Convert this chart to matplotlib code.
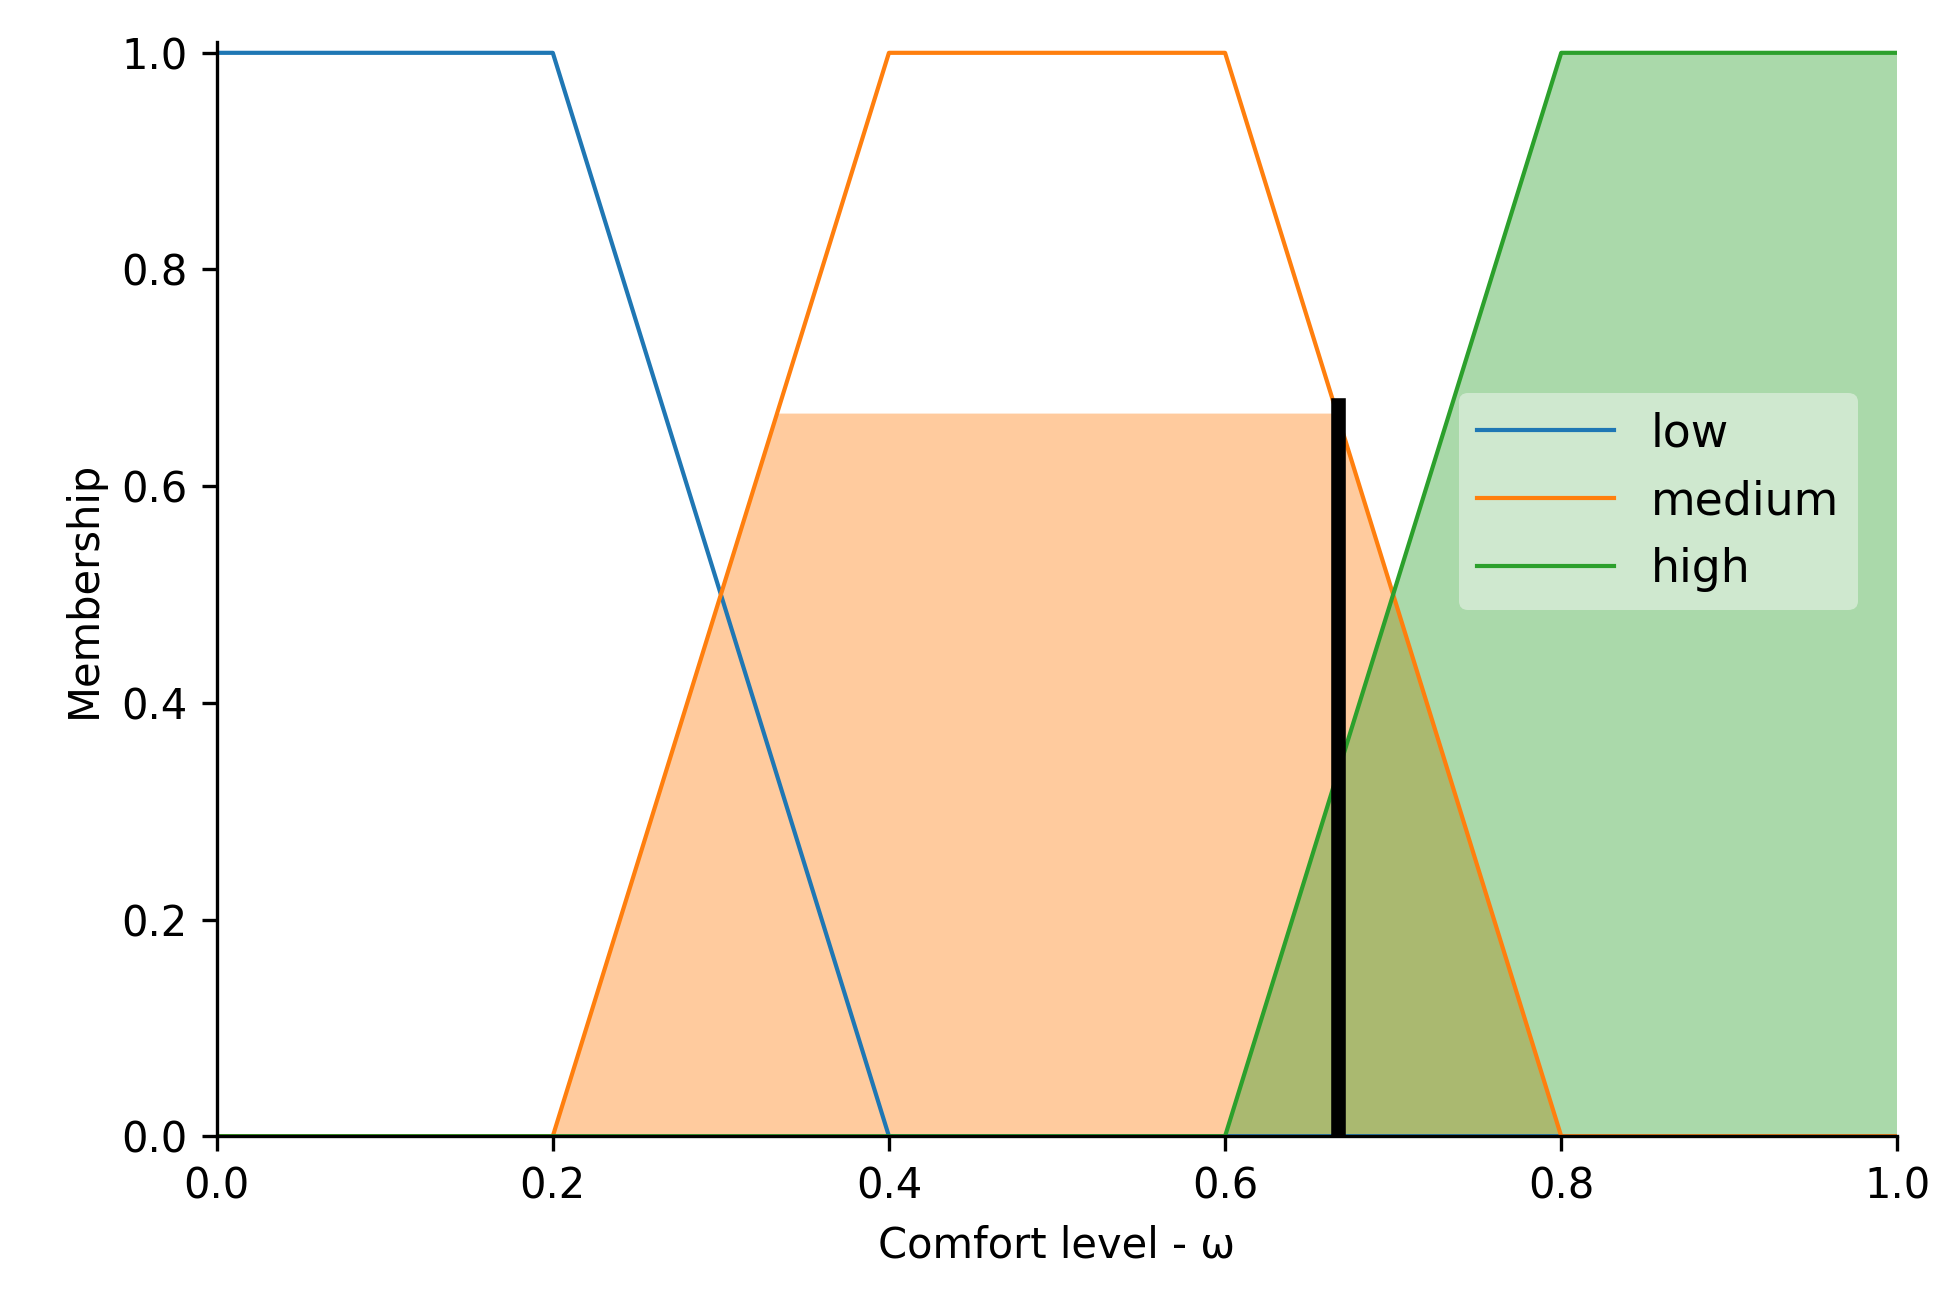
import numpy as np
import matplotlib
matplotlib.use("Agg")
import matplotlib.pyplot as plt

# trapezoid membership functions (x breakpoints, y values)
x_universe = np.linspace(0, 1, 1001)
low_pts = [0.0, 0.0, 0.2, 0.4]
medium_pts = [0.2, 0.4, 0.6, 0.8]
high_pts = [0.6, 0.8, 1.0, 1.0]
trap_y = [1.0, 1.0, 1.0, 0.0]

medium_activation = 0.667
high_activation = 1.0
crisp_output = 0.667


def trapmf(x, p):
    a, b, c, d = p
    y = np.zeros_like(x)
    if b > a:
        y = np.where((x >= a) & (x < b), (x - a) / (b - a), y)
    y = np.where((x >= b) & (x <= c), 1.0, y)
    if d > c:
        y = np.where((x > c) & (x <= d), (d - x) / (d - c), y)
    return y


low = trapmf(x_universe, low_pts)
medium = trapmf(x_universe, medium_pts)
high = trapmf(x_universe, high_pts)

fig = plt.figure(figsize=(1952 / 300, 1312 / 300), dpi=300)
ax = fig.add_axes((0.111, 0.134, 0.861, 0.834))

ax.fill_between(x_universe, 0, np.fmin(medium, medium_activation), facecolor="#ff7f0e", alpha=0.4)
ax.fill_between(x_universe, 0, np.fmin(high, high_activation), facecolor="#2ca02c", alpha=0.4)

ax.plot(x_universe, low, color="#1f77b4", lw=1, label="low")
ax.plot(x_universe, medium, color="#ff7f0e", lw=1, label="medium")
ax.plot(x_universe, high, color="#2ca02c", lw=1, label="high")

ax.plot([crisp_output, crisp_output], [0, 0.675], color="k", lw=3.5)

ax.set_xlim(0, 1)
ax.set_ylim(0, 1.01)
ax.set_ylabel("Membership")
ax.set_xlabel("Comfort level - ω")
ax.spines["top"].set_visible(False)
ax.spines["right"].set_visible(False)
ax.legend(loc="center right", bbox_to_anchor=(0.99, 0.58), fontsize=11,
          handlelength=3, facecolor="#e9f3e9", edgecolor="none", framealpha=0.6)

fig.savefig("out.png", dpi=300)
